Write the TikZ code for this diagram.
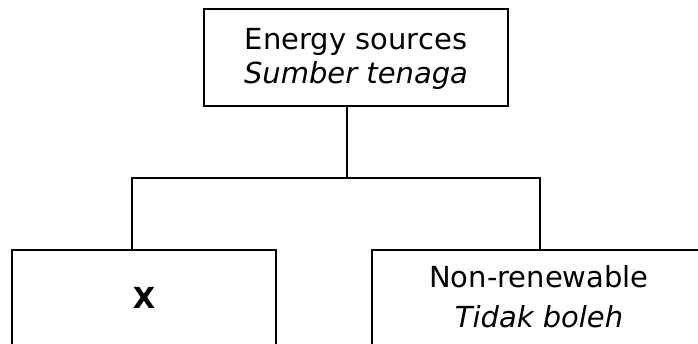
\documentclass[tikz,border=0pt]{standalone}
\usepackage{fontspec}
\setmainfont{DejaVu Sans}
\begin{document}
\begin{tikzpicture}[x=1pt,y=-1pt,
  box/.style={draw, line width=2pt, inner sep=0pt},
  conn/.style={draw, line width=2pt},
  lbl/.style={anchor=base, inner sep=0pt, font=\fontsize{29}{34}\selectfont}]
\useasboundingbox (0,0) rectangle (698,343);
\clip (0,0) rectangle (698,343);
% boxes
\node[box, minimum width=304pt, minimum height=97pt] (top) at (356,57) {};
\node[box, minimum width=264pt, minimum height=120pt] (lb) at (144,310) {};
\node[box, minimum width=334pt, minimum height=120pt] (rb) at (539,310) {};
% texts
\node[lbl] (t1) at (356,49) {Energy sources};
\node[lbl] (t2) at (356,83) {\itshape Sumber tenaga};
\node[lbl] (xl) at (144,308) {\bfseries X};
\node[lbl] (r1) at (539,287) {Non-renewable};
\node[lbl] (r2) at (539,327) {\itshape Tidak boleh};
% connectors
\coordinate (j) at (347,178);
\coordinate (hl) at (132,178);
\coordinate (hr) at (540,178);
\draw[conn] (j |- top.south) -- (j);
\draw[conn] (hl |- lb.north) -- (hl) -- (hr) -- (hr |- rb.north);
\end{tikzpicture}
\end{document}
